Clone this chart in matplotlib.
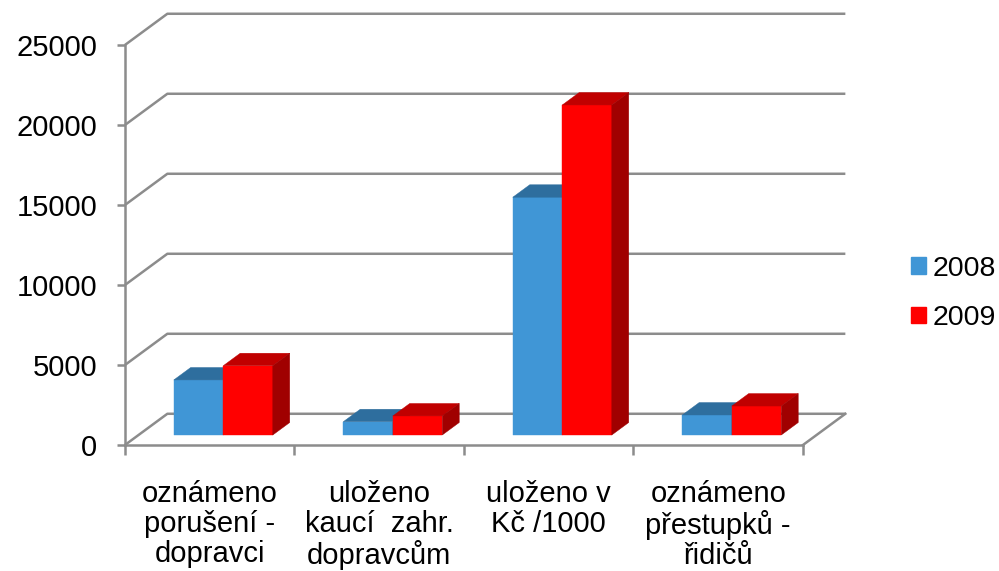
import matplotlib
matplotlib.use("Agg")
import matplotlib.pyplot as plt
from matplotlib.patches import Polygon, Patch

plt.rcParams['font.family'] = ['Liberation Sans', 'DejaVu Sans']

categories = ["oznámeno\nporušení -\ndopravci",
              "uloženo\nkaucí  zahr.\ndopravcům",
              "uloženo v\nKč /1000",
              "oznámeno\npřestupků -\nřidičů"]
v2008 = [3440, 830, 14860, 1250]
v2009 = [4330, 1190, 20625, 1810]
yticks = [0, 5000, 10000, 15000, 20000, 25000]

# fake 3d look
dx, dy = 0.25, 1950      # depth offset of the back wall
f0, f1 = 0.32, 0.72      # bar front / back depth (fraction)
w = 0.292                # bar width
grey = '#8c8c8c'
col08 = ('#4096d6', '#2e6e9e', '#2e6e9e')
col09 = ('#ff0000', '#c00000', '#a00000')

fig = plt.figure(figsize=(9.99, 5.71), dpi=100)
ax = fig.add_axes([0.1251, 0.2207, 0.7211, 0.7566])
ax.set_xlim(0, 4 + dx)
ax.set_ylim(0, 25000 + dy + 50)

# walls / gridlines
for v in yticks:
    ax.plot([0, dx, 4 + dx], [v, v + dy, v + dy], color=grey, lw=1.8,
            clip_on=False, zorder=1, solid_capstyle='butt')
ax.plot([4, 4 + dx], [0, dy], color=grey, lw=1.8, clip_on=False, zorder=1)


def bar3d(x0, v, cols):
    xa, xb = x0 + f0 * dx, x0 + w + f0 * dx
    y0 = f0 * dy
    d_x, d_y = (f1 - f0) * dx, (f1 - f0) * dy
    front = [(xa, y0), (xb, y0), (xb, y0 + v), (xa, y0 + v)]
    top = [(xa, y0 + v), (xb, y0 + v), (xb + d_x, y0 + v + d_y), (xa + d_x, y0 + v + d_y)]
    side = [(xb, y0), (xb + d_x, y0 + d_y), (xb + d_x, y0 + v + d_y), (xb, y0 + v)]
    for pts, c in zip((front, top, side), cols):
        ax.add_patch(Polygon(pts, closed=True, facecolor=c, edgecolor=c, lw=0.3, zorder=3))


for i in range(len(categories)):
    c = i + 0.5
    bar3d(c - w, v2008[i], col08)
    bar3d(c, v2009[i], col09)

for s in ['top', 'right']:
    ax.spines[s].set_visible(False)
for s in ['left', 'bottom']:
    ax.spines[s].set_color(grey)
    ax.spines[s].set_linewidth(1.8)
ax.spines['left'].set_bounds(0, 25000)
ax.spines['bottom'].set_bounds(0, 4)

ax.set_yticks(yticks)
ax.set_yticklabels([str(t) for t in yticks])
ax.tick_params(axis='y', length=6, width=1.8, color=grey, pad=14, labelsize=21)
ax.set_xticks([0, 1, 2, 3, 4])
ax.set_xticklabels([])
ax.set_xticks([i + 0.5 for i in range(len(categories))], minor=True)
ax.set_xticklabels(categories, minor=True)
ax.tick_params(axis='x', which='major', length=7, width=1.8, color=grey)
ax.tick_params(axis='x', which='minor', length=0, pad=25, labelsize=21)
for lab in ax.get_xticklabels(minor=True):
    lab.set_linespacing(1.1)
    lab.set_multialignment('center')

handles = [Patch(color=col08[0], label='2008'), Patch(color=col09[0], label='2009')]
fig.legend(handles=handles, loc='center left', bbox_to_anchor=(0.912, 0.486),
           frameon=False, fontsize=20.5, handlelength=0.53, handleheight=0.53,
           handletextpad=0.21, labelspacing=0.82, borderpad=0, borderaxespad=0)

fig.savefig('out.png', dpi=100)
